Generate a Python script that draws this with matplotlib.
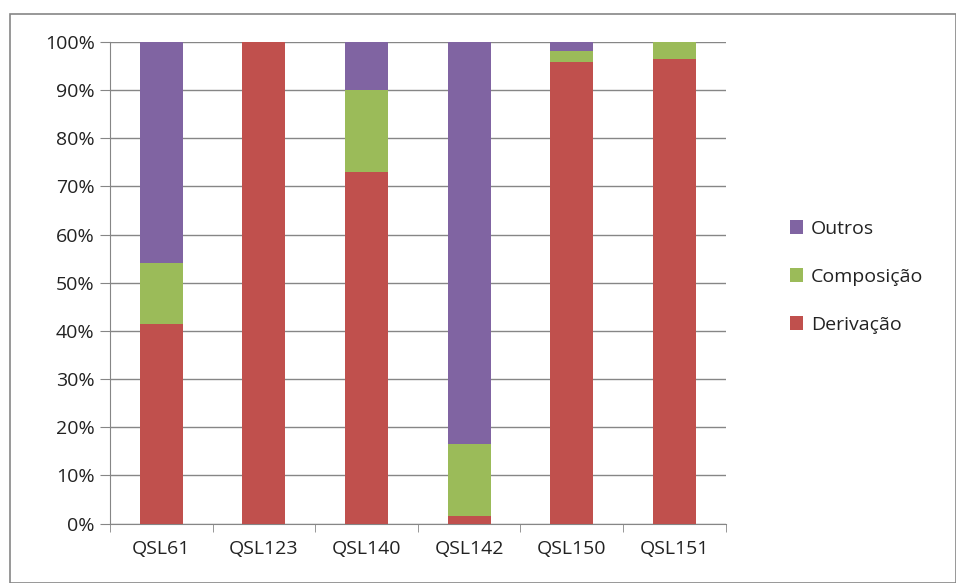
import numpy as np
import matplotlib.pyplot as plt
from matplotlib.patches import Rectangle

plt.rcParams['font.family'] = ['Open Sans', 'DejaVu Sans']

categorias = ["QSL61", "QSL123", "QSL140", "QSL142", "QSL150", "QSL151"]
derivacao = [41.5, 100.0, 73.0, 1.5, 95.8, 96.5]
composicao = [12.5, 0.0, 17.0, 15.0, 2.3, 3.5]
outros = [46.0, 0.0, 10.0, 83.5, 1.9, 0.0]

cor_der = "#C0504D"
cor_comp = "#9BBB59"
cor_out = "#8064A2"
cinza = "#868686"

fig = plt.figure(figsize=(9.56, 5.83), dpi=100)
ax = fig.add_axes([0.115, 0.102, 0.644, 0.826])

x = np.arange(len(categorias))
w = 0.42
der = np.array(derivacao)
comp = np.array(composicao)
b1 = ax.bar(x, der, w, color=cor_der, zorder=3, label="Derivação")
b2 = ax.bar(x, comp, w, bottom=der, color=cor_comp, zorder=3, label="Composição")
b3 = ax.bar(x, outros, w, bottom=der + comp, color=cor_out, zorder=3, label="Outros")

ax.set_xlim(-0.5, len(categorias) - 0.5)
ax.set_ylim(0, 100)
ax.set_yticks(np.arange(0, 101, 10))
ax.set_yticklabels([f"{v}%" for v in range(0, 101, 10)])
ax.yaxis.grid(True, color=cinza, linewidth=1, zorder=0)

ax.set_xticks(x)
ax.set_xticklabels(categorias)
ax.set_xticks(np.arange(-0.5, len(categorias), 1), minor=True)
ax.tick_params(axis="x", which="major", length=0, pad=12, labelsize=14, labelcolor="#222222")
ax.tick_params(axis="x", which="minor", length=6, color=cinza, direction="out")
ax.tick_params(axis="y", length=7, color=cinza, labelsize=14, labelcolor="#222222", pad=4)

for s in ["top", "right"]:
    ax.spines[s].set_visible(False)
ax.spines["left"].set_color(cinza)
ax.spines["bottom"].set_color(cinza)

fig.legend([b3, b2, b1], ["Outros", "Composição", "Derivação"],
           loc="center left", bbox_to_anchor=(0.818, 0.525), frameon=False,
           borderaxespad=0, fontsize=14, handlelength=0.7, handleheight=0.7,
           handletextpad=0.4, labelspacing=1.55, labelcolor="#222222")

fig.patches.append(Rectangle((0.0105, 0.0), 0.99, 0.976, transform=fig.transFigure,
                             fill=False, edgecolor=cinza, linewidth=1.2))

fig.savefig("out.png", dpi=100)
